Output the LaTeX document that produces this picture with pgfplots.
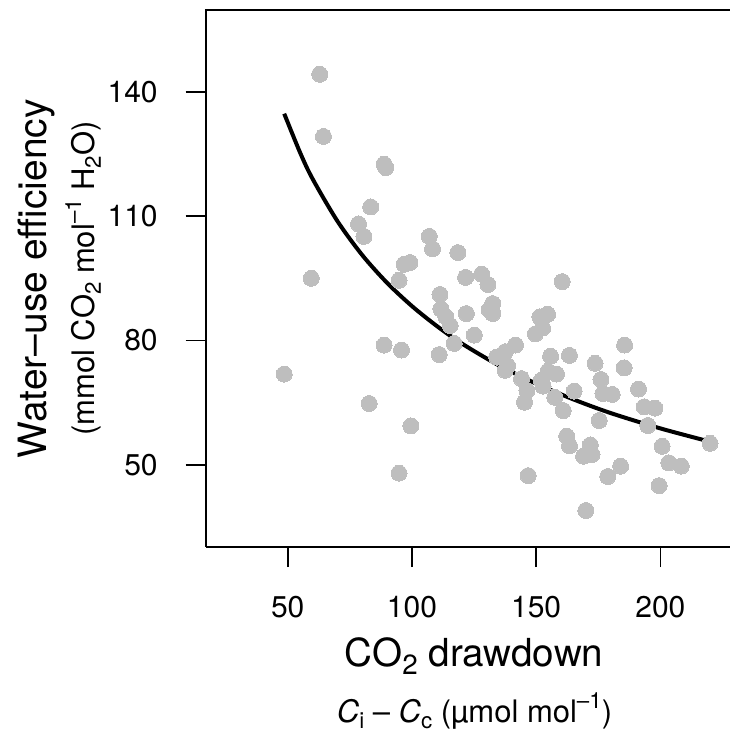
\documentclass[border=0pt]{standalone}
\usepackage{fontspec}
\setmainfont{TeX Gyre Heros}
\usepackage{graphicx}
\usepackage{pgfplots}
\pgfplotsset{compat=1.18}
\definecolor{ptgray}{HTML}{BEBEBE}
\newcommand{\sub}[1]{\raisebox{-0.22em}{\scalebox{0.72}{#1}}}
\newcommand{\super}[1]{\raisebox{0.42em}{\scalebox{0.72}{#1}}}
\begin{document}
\begin{tikzpicture}
\begin{axis}[
  at={(0pt,0pt)}, anchor=south west,
  scale only axis, width=262pt, height=268.5pt,
  xmin=17, xmax=227.9, ymin=30.2, ymax=159.7,
  axis x line*=bottom, axis y line*=left,
  x axis line style={-}, y axis line style={-},
  axis line style={line width=0.85pt, black},
  xtick={50,100,150,200}, ytick={50,80,110,140},
  tick align=outside, major tick length=10pt,
  tick style={line width=0.85pt, black},
  /pgf/number format/assume math mode=true,
  xticklabel style={font=\fontsize{15}{18}\selectfont, anchor=base, yshift=-25pt},
  yticklabel style={font=\fontsize{15}{18}\selectfont, anchor=east, xshift=-10.5pt},
  clip=false,
]
\addplot[only marks, mark=*, mark size=4pt, color=ptgray,
  mark options={fill=ptgray, draw=ptgray, line width=0pt}] coordinates {
(62.9,144.2) (64.4,129.2) (88.8,122.5) (89.5,121.7) (83.4,112.2)
(78.5,108.1) (80.7,105.1) (59.5,95.0) (107.0,105.1) (108.3,102.1)
(118.5,101.2) (96.9,98.4) (99.2,98.8) (94.8,94.5) (121.6,95.2)
(128.1,96.0) (130.6,93.5) (160.5,94.2) (111.3,91.1) (111.7,87.6)
(113.7,85.7) (115.4,83.6) (121.9,86.5) (132.5,88.9) (131.1,87.4)
(132.5,86.5) (125.1,81.3) (117.0,79.3) (88.8,78.9) (95.8,77.7)
(111.0,76.6) (48.6,71.9) (151.5,85.7) (154.6,86.3) (152.6,83.0)
(149.7,81.6) (141.7,78.9) (137.6,77.3) (134.1,76.0) (138.5,73.9)
(137.5,72.8) (144.1,70.8) (146.3,67.9) (145.3,65.1) (155.8,76.2)
(163.4,76.4) (154.8,72.6) (158.2,71.9) (152.1,70.4) (152.8,69.0)
(157.5,66.3) (160.9,63.1) (165.3,67.8) (173.7,74.5) (176.1,70.6)
(176.9,67.2) (180.6,67.0) (185.6,78.9) (185.4,73.4) (191.2,68.3)
(193.5,64.0) (197.8,63.7) (194.9,59.5) (175.4,60.7) (162.3,56.9)
(163.4,54.6) (171.8,54.8) (169.1,52.1) (172.5,52.5) (200.7,54.5)
(203.4,50.5) (208.4,49.7) (184.0,49.7) (178.8,47.2) (199.5,45.0)
(170.0,39.0) (146.8,47.4) (94.8,48.0) (99.6,59.4) (82.8,64.8)
(220.0,55.2)
};
\addplot[black, line width=2pt, smooth] coordinates {
(48.6,134.7) (55,125.3) (60,119.0) (70,108.8) (80,100.6) (90,93.9)
(100,88.3) (110,83.5) (120,79.3) (135,74.0) (150,69.6) (165,65.8)
(180,62.5) (200,58.8) (220,55.6)
};
\end{axis}
\draw[line width=0.85pt, black] (-0.425pt,268.5pt) -- (262.15pt,268.5pt);
\node[anchor=base, font=\fontsize{19.3}{22}\selectfont] at (134.2pt,-59.5pt)
  {CO\sub{2} drawdown};
\node[anchor=base, font=\fontsize{15.5}{18}\selectfont] at (134.4pt,-87.5pt)
  {\textit{C}\sub{i} – \textit{C}\sub{c} (µmol mol\super{–1})};
\node[rotate=90, anchor=base, font=\fontsize{19.5}{22}\selectfont] at (-79.8pt,134.25pt)
  {Water–use efficiency};
\node[rotate=90, anchor=base, font=\fontsize{15.5}{18}\selectfont] at (-55.8pt,134.25pt)
  {(mmol CO\sub{2} mol\super{–1} H\sub{2}O)};
\pgfresetboundingbox
\path (-102.85pt,-93.5pt) rectangle (262.15pt,273.5pt);
\end{tikzpicture}
\end{document}
